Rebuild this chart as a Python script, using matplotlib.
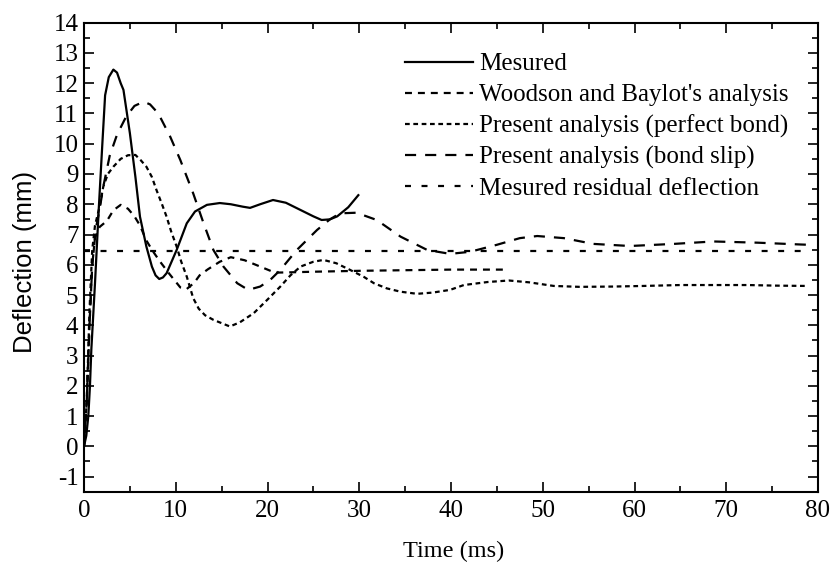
import matplotlib
matplotlib.use("Agg")
import matplotlib.pyplot as plt
from matplotlib.ticker import MultipleLocator

plt.rcParams['font.family'] = ['Liberation Serif', 'DejaVu Serif']
plt.rcParams['lines.scale_dashes'] = False
plt.rcParams['axes.unicode_minus'] = False

# measured deflection history
t_meas = [0, 0.25, 0.47, 0.65, 0.8, 1.0, 1.2, 1.6, 2.0, 2.3, 2.7, 3.2, 3.6, 4.0, 4.3,
          5.0, 5.6, 6.1, 6.8, 7.4, 7.8, 8.2, 8.6, 9.0, 10.1, 11.2, 12.1, 13.4, 14.8, 16.0, 17.3,
          18.1, 19.2, 20.6, 22.0, 23.6, 25.0, 25.9, 26.8, 27.6, 28.8, 29.9]
y_meas = [0, 0.35, 1.0, 2.0, 3.2, 4.3, 5.4, 7.8, 10.0, 11.6, 12.2, 12.45, 12.35, 12.0, 11.78,
          10.35, 8.91, 7.59, 6.6, 5.94, 5.65, 5.53, 5.58, 5.72, 6.49, 7.37, 7.76, 7.98, 8.04, 8.0, 7.92,
          7.88, 8.0, 8.14, 8.05, 7.81, 7.6, 7.48, 7.5, 7.6, 7.9, 8.3]

# Woodson and Baylot's analysis
t_wb = [0, 0.3, 0.6, 0.9, 1.2, 1.7, 2.5, 3.2, 4.0, 4.8, 5.5, 6.1, 6.8, 7.5, 8.3, 9.3,
        10.5, 11.2, 12.0, 12.6, 13.5, 14.8, 16.0, 17.5, 19.2, 20.8, 22.5, 25, 30, 35, 40, 46.3]
y_wb = [0, 1.5, 4.0, 6.0, 6.9, 7.25, 7.45, 7.8, 7.98, 7.85, 7.6, 7.3, 6.8, 6.45, 6.1, 5.7,
        5.25, 5.2, 5.4, 5.65, 5.85, 6.1, 6.25, 6.15, 5.94, 5.74, 5.75, 5.77, 5.8, 5.82, 5.84, 5.84]

# present analysis, perfect bond
t_pb = [0, 0.3, 0.6, 0.9, 1.2, 1.7, 2.1, 2.6, 3.2, 4.0, 4.8, 5.6, 6.2, 6.8, 7.4, 7.9,
        8.5, 9.0, 9.5, 10.1, 10.6, 11.2, 11.9, 12.5, 13.2, 14.1, 15.9, 17.0, 18.5, 20.0,
        21.4, 22.5, 23.6, 25.0, 26.1, 27.5, 29.0, 30.5, 31.6, 33.0, 34.5, 36.3, 38.0,
        39.9, 41.4, 44.0, 46.3, 48.5, 51.2, 54.0, 57.7, 61.0, 65.0, 68.0, 72.3, 75.5, 78.8]
y_pb = [0, 1.5, 4.5, 6.5, 7.3, 7.92, 8.58, 9.0, 9.24, 9.5, 9.62, 9.63, 9.45, 9.24, 8.9, 8.47,
        8.0, 7.59, 7.1, 6.6, 6.1, 5.61, 4.9, 4.55, 4.33, 4.18, 3.96, 4.1, 4.4, 4.85,
        5.28, 5.65, 5.94, 6.1, 6.16, 6.05, 5.83, 5.6, 5.39, 5.22, 5.11, 5.04, 5.08,
        5.17, 5.33, 5.43, 5.48, 5.42, 5.3, 5.27, 5.28, 5.3, 5.33, 5.33, 5.33, 5.31, 5.3]

# present analysis, bond slip
t_bs = [0, 0.3, 0.6, 0.9, 1.3, 1.75, 2.1, 2.8, 3.6, 4.6, 5.5, 6.5, 7.2, 8.1, 9.4, 10.5,
        11.9, 13.0, 14.1, 15.2, 16.7, 17.9, 19.2, 20.3, 21.4, 23.2, 25.4, 26.8, 27.9,
        29.7, 31.9, 34.5, 37.4, 39.9, 42.1, 45.0, 47.5, 49.4, 52.3, 55.5, 59.5, 64.3,
        68.6, 73.4, 78.1, 79.0]
y_bs = [0, 1.5, 4.0, 6.0, 7.2, 7.92, 8.58, 9.6, 10.3, 10.9, 11.25, 11.39, 11.3, 11.0, 10.23, 9.46,
        8.36, 7.4, 6.49, 5.94, 5.39, 5.17, 5.28, 5.5, 5.83, 6.49, 7.15, 7.5, 7.7,
        7.72, 7.48, 6.93, 6.49, 6.36, 6.43, 6.66, 6.88, 6.95, 6.88, 6.69, 6.62, 6.69,
        6.77, 6.73, 6.67, 6.66]

# measured residual deflection
t_res = [0, 79]
y_res = [6.45, 6.45]

fig = plt.figure(figsize=(8.35, 5.71), dpi=100)
ax = fig.add_axes([84 / 835, 1 - 491.7 / 571, (818 - 84) / 835, (491.7 - 22.7) / 571])

lw = 1.6
ax.plot(t_meas, y_meas, color='black', lw=lw, label='Mesured')
ax.plot(t_wb, y_wb, color='black', lw=lw, dashes=(5.0, 4.3), label="Woodson and Baylot's analysis")
ax.plot(t_pb, y_pb, color='black', lw=lw, dashes=(3.4, 2.6), label='Present analysis (perfect bond)')
ax.plot(t_bs, y_bs, color='black', lw=lw, dashes=(8.0, 6.5), label='Present analysis (bond slip)')
ax.plot(t_res, y_res, color='black', lw=lw, dashes=(4.3, 7.6), label='Mesured residual deflection')

ax.set_xlim(0, 80)
ax.set_ylim(-1.5, 14)
ax.xaxis.set_major_locator(MultipleLocator(10))
ax.xaxis.set_minor_locator(MultipleLocator(5))
ax.yaxis.set_major_locator(MultipleLocator(1))
ax.yaxis.set_minor_locator(MultipleLocator(0.5))
ax.tick_params(which='both', direction='in', top=True, right=True, width=1.2,
               labelsize=18, colors='black')
ax.tick_params(which='major', length=7)
ax.tick_params(which='minor', length=4.3)
ax.tick_params(axis='x', pad=6)
ax.tick_params(axis='y', pad=4)
for s in ax.spines.values():
    s.set_linewidth(1.5)

leg = ax.legend(loc='upper left', bbox_to_anchor=(405 / 835, 1 - 53 / 571),
                bbox_transform=fig.transFigure, frameon=False, fontsize=18,
                handlelength=2.7, handletextpad=0.25, labelspacing=0.33,
                borderpad=0, borderaxespad=0)

fig.text(454 / 835, 1 - 551 / 571, 'Time (ms)', ha='center', va='center', fontsize=17.5)
fig.text(25 / 835, 1 - 262 / 571, 'Deflection (mm)', ha='center', va='center',
         rotation=90, fontsize=18.5, family=['Liberation Sans Narrow', 'Liberation Sans'])

fig.savefig('out.png', dpi=100)
